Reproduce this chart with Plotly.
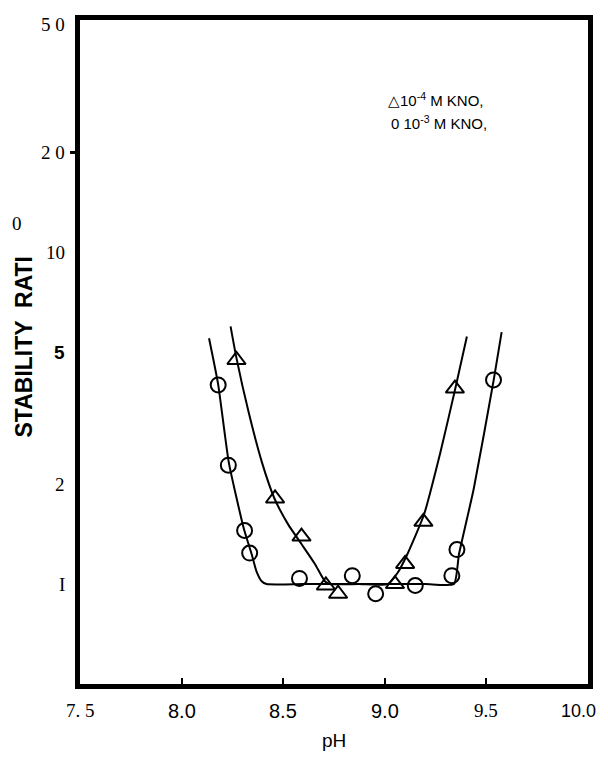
import math
import plotly.graph_objects as go

# ---- data ----
# 10^-4 M KNO3 (triangles)
tri_ph = [8.27, 8.46, 8.59, 8.71, 8.77, 9.05, 9.10, 9.19, 9.345]
tri_w = [4.73, 1.81, 1.39, 0.99, 0.935, 1.0, 1.15, 1.54, 3.88]
# 10^-3 M KNO3 (circles)
cir_ph = [8.18, 8.23, 8.31, 8.335, 8.58, 8.84, 8.955, 9.15, 9.33, 9.355, 9.535]
cir_w = [3.98, 2.28, 1.45, 1.24, 1.04, 1.06, 0.935, 0.99, 1.06, 1.27, 4.12]

# fitted curves as drawn
tri_curve_ph = [8.241, 8.268, 8.330, 8.395, 8.457, 8.525, 8.590, 8.656, 8.705, 8.729,
                8.87, 9.014, 9.0625, 9.111, 9.193, 9.274, 9.347, 9.404]
tri_curve_w = [5.97, 4.86, 3.29, 2.33, 1.81, 1.51, 1.32, 1.15, 1.02, 1.0,
               1.0, 1.0, 1.08, 1.23, 1.62, 2.50, 3.88, 5.57]
cir_curve_ph = [8.135, 8.18, 8.232, 8.306, 8.345, 8.369, 8.394, 8.418,
                8.6, 8.8, 9.0, 9.2, 9.34, 9.365, 9.438, 9.536, 9.575]
cir_curve_w = [5.5, 3.99, 2.33, 1.47, 1.23, 1.09, 1.02, 1.0,
               1.0, 1.0, 1.0, 1.0, 1.0, 1.23, 1.94, 4.12, 5.74]

x_ticks = [7.5, 8.0, 8.5, 9.0, 9.5, 10.0]
x_tick_text = ["7. 5", "8.0", "8.5", "9.0", "9.5", "10.0"]
x_tick_font = ["serif", "sans", "sans", "sans", "serif", "sans"]
y_ticks = [50, 20, 10, 5, 2, 1]
y_tick_text = ["5 0", "2 0", "10", "5", "2", "I"]
y_tick_font = ["serif", "serif", "serif", "bold", "serif", "serif"]

SERIF = "Liberation Serif, serif"
SANS = "Liberation Sans, Arial, sans-serif"

fig = go.Figure()
fig.add_trace(go.Scatter(x=cir_curve_ph, y=cir_curve_w, mode="lines",
                         line=dict(color="black", width=2, shape="spline", smoothing=0.5),
                         hoverinfo="skip", showlegend=False))
fig.add_trace(go.Scatter(x=tri_curve_ph, y=tri_curve_w, mode="lines",
                         line=dict(color="black", width=2, shape="spline", smoothing=0.5),
                         hoverinfo="skip", showlegend=False))
fig.add_trace(go.Scatter(x=cir_ph, y=cir_w, mode="markers",
                         marker=dict(symbol="circle-open", size=15, color="black",
                                     line=dict(width=2, color="black")),
                         showlegend=False))
fig.add_trace(go.Scatter(x=tri_ph, y=tri_w, mode="markers",
                         marker=dict(symbol="triangle-up-open", size=16, color="black",
                                     line=dict(width=2, color="black")),
                         showlegend=False))

fig.update_xaxes(range=[7.5, 10.0], showline=True, linewidth=5, linecolor="black",
                 mirror=True, showgrid=False, zeroline=False,
                 tickvals=[8.0, 8.5, 9.0, 9.5], ticks="inside", ticklen=6,
                 tickwidth=2, tickcolor="black", showticklabels=False)
fig.update_yaxes(type="log", range=[math.log10(0.5), math.log10(50)], showline=True,
                 linewidth=5, linecolor="black", mirror=True, showgrid=False,
                 zeroline=False, tickvals=[20], ticks="outside", ticklen=5,
                 tickwidth=3, tickcolor="black", showticklabels=False)

ann = []
for v, t, f in zip(x_ticks, x_tick_text, x_tick_font):
    fam = SERIF if f == "serif" else SANS
    size = 19 if f == "serif" else 20
    if v == 10.0:
        size = 18
    shift = -10 if v == 10.0 else 0
    ann.append(dict(x=v, y=-0.040, xref="x", yref="paper", text=t, showarrow=False,
                    font=dict(family=fam, size=size, color="black"), xshift=shift,
                    xanchor="center", yanchor="middle"))
for v, t, f in zip(y_ticks, y_tick_text, y_tick_font):
    if f == "bold":
        txt, fam = "<b>" + t + "</b>", SANS
    else:
        txt, fam = t, SERIF
    yshift = -4 if v == 50 else 0
    ann.append(dict(x=-0.025, y=math.log10(v), xref="paper", yref="y", text=txt,
                    showarrow=False, font=dict(family=fam, size=19, color="black"),
                    yshift=yshift, xanchor="right", yanchor="middle"))

ann.append(dict(x=0.5, y=-0.085, xref="paper", yref="paper", text="pH", showarrow=False,
                font=dict(family=SANS, size=19, color="black"),
                xanchor="center", yanchor="middle"))
ann.append(dict(x=-0.110, y=0.507, xref="paper", yref="paper", text="<b>STABILITY  RATI</b>",
                showarrow=False, textangle=-90,
                font=dict(family=SANS, size=23, color="black"),
                xanchor="center", yanchor="middle"))
ann.append(dict(x=-0.125, y=0.694, xref="paper", yref="paper", text="0",
                showarrow=False, font=dict(family=SERIF, size=19, color="black"),
                xanchor="center", yanchor="middle"))
ann.append(dict(x=0.602, y=0.880, xref="paper", yref="paper",
                text="\u25b310<sup>-4</sup> M KNO,", showarrow=False,
                font=dict(family=SANS, size=15, color="black"),
                xanchor="left", yanchor="middle"))
ann.append(dict(x=0.608, y=0.845, xref="paper", yref="paper",
                text="0 10<sup>-3</sup> M KNO,", showarrow=False,
                font=dict(family=SANS, size=15, color="black"),
                xanchor="left", yanchor="middle"))

# the page body has an 8px default margin on every side, so the figure is
# 16px smaller than the window to avoid scrollbars
fig.update_layout(width=592, height=744, margin=dict(l=72, r=9, t=7, b=68),
                  paper_bgcolor="white", plot_bgcolor="white", annotations=ann)

fig.write_html("out.html")
